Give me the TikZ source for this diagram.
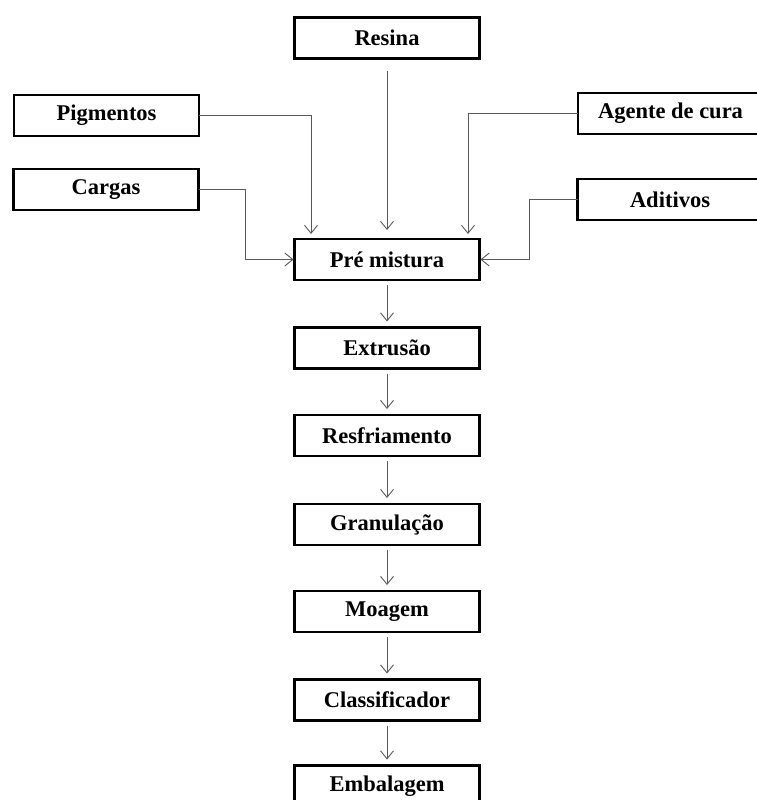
\documentclass[tikz,border=0pt]{standalone}
\usepackage{fontspec}
\setmainfont{Liberation Serif}
\usetikzlibrary{arrows.meta}
\begin{document}
\begin{tikzpicture}[x=1pt,y=-1pt,
  box/.style={draw=black,line width=2.8pt,minimum width=185pt,minimum height=41pt,
    inner sep=0pt,outer sep=0pt,fill=white,font=\fontsize{22.5}{24}\selectfont\bfseries},
  arr/.style={draw=black!65,line width=0.9pt,-{Straight Barb[length=8pt,width=13pt,line width=0.9pt]}},
  chain/.style={arr,shorten <=5pt,shorten >=6pt}]
\useasboundingbox (0,0) rectangle (757,800);
\clip (0,0) rectangle (757,800);
\fill[white] (0,0) rectangle (757,800);
\node[box] (res) at (387,38) {Resina};
\node[box] (pig) at (106.5,115.5) {Pigmentos};
\node[box] (car) at (106,189.5) {Cargas};
\node[box] (age) at (670.5,113.5) {Agente de cura};
\node[box] (adi) at (670,199.5) {Aditivos};
\node[box] (pre) at (387,259.5) {Pré mistura};
\node[box] (ext) at (387,348) {Extrusão};
\node[box] (resf) at (387,435.5) {Resfriamento};
\node[box] (gra) at (387,524.5) {Granulação};
\node[box] (moa) at (387,611.5) {Moagem};
\node[box] (cla) at (387,700) {Classificador};
\node[box] (emb) at (387,786) {Embalagem};
\draw[arr,shorten <=12pt,shorten >=9pt] (res.south) -- (pre.north);
\draw[arr,shorten >=5pt] (pig.east) -| ([xshift=-76pt]pre.north);
\draw[arr,shorten >=5pt] (age.west) -| ([xshift=81pt]pre.north);
\draw[arr,shorten >=1pt] (car.east) -- ++(47pt,0) |- (pre.west);
\draw[arr,shorten >=1pt] (adi.west) -- ++(-48pt,0) |- (pre.east);
\draw[chain] (pre) -- (ext);
\draw[chain] (ext) -- (resf);
\draw[chain] (resf) -- (gra);
\draw[chain] (gra) -- (moa);
\draw[chain] (moa) -- (cla);
\draw[chain] (cla) -- (emb);
\end{tikzpicture}
\end{document}
